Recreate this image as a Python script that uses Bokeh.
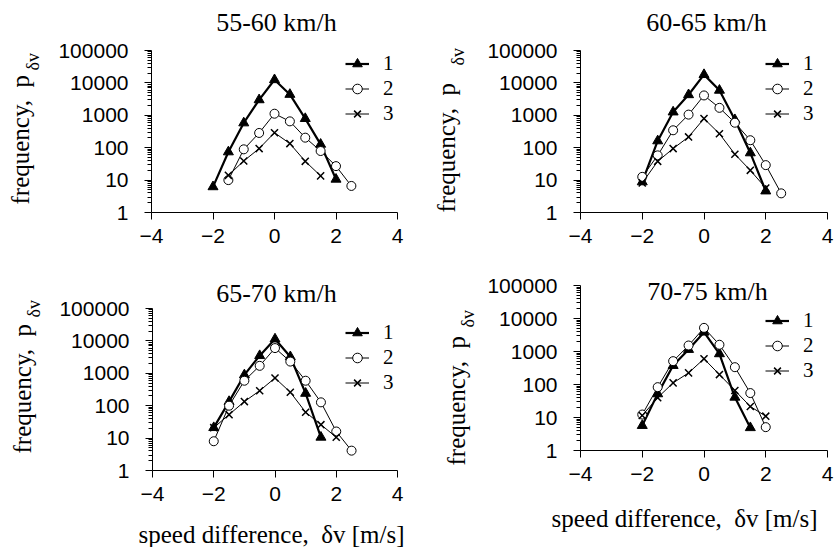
import math
from bokeh.plotting import figure
from bokeh.layouts import column, row
from bokeh.models import (FixedTicker, PrintfTickFormatter, Label, Legend,
                          LegendItem, Range1d)
from bokeh.embed import file_html
from bokeh.resources import INLINE

# ---------------- data ----------------
titles = ["55-60 km/h", "60-65 km/h", "65-70 km/h", "70-75 km/h"]
series_names = ["1", "2", "3"]

# panel 1: 55-60 km/h
p1_s1_x = [-2, -1.5, -1, -0.5, 0, 0.5, 1, 1.5, 2]
p1_s1_y = [6.2, 74, 580, 3000, 12500, 4400, 790, 127, 10.6]
p1_s2_x = [-1.5, -1, -0.5, 0, 0.5, 1, 1.5, 2, 2.5]
p1_s2_y = [10, 89, 285, 1120, 650, 204, 79, 27, 6.6]
p1_s3_x = [-1.5, -1, -0.5, 0, 0.5, 1, 1.5]
p1_s3_y = [14, 39, 94, 290, 134, 38, 13.5]

# panel 2: 60-65 km/h
p2_s1_x = [-2, -1.5, -1, -0.5, 0, 0.5, 1, 1.5, 2]
p2_s1_y = [8.8, 162, 1260, 4300, 18000, 5900, 730, 69, 4.6]
p2_s2_x = [-2, -1.5, -1, -0.5, 0, 0.5, 1, 1.5, 2, 2.5]
p2_s2_y = [12.6, 58, 345, 1050, 4100, 1700, 590, 170, 29, 3.9]
p2_s3_x = [-2, -1.5, -1, -0.5, 0, 0.5, 1, 1.5, 2]
p2_s3_y = [8.2, 38, 94, 215, 790, 270, 63, 20, 5.7]

# panel 3: 65-70 km/h
p3_s1_x = [-2, -1.5, -1, -0.5, 0, 0.5, 1, 1.5]
p3_s1_y = [21, 134, 890, 3500, 11400, 3240, 240, 10.6]
p3_s2_x = [-2, -1.5, -1, -0.5, 0, 0.5, 1, 1.5, 2, 2.5]
p3_s2_y = [8, 100, 590, 1700, 6000, 2300, 590, 127, 16, 4.1]
p3_s3_x = [-2, -1.5, -1, -0.5, 0, 0.5, 1, 1.5, 2]
p3_s3_y = [21, 53, 134, 290, 715, 260, 63, 26, 10.6]

# panel 4: 70-75 km/h
p4_s1_x = [-2, -1.5, -1, -0.5, 0, 0.5, 1, 1.5]
p4_s1_y = [5.7, 52, 375, 1150, 3850, 850, 41, 4.9]
p4_s2_x = [-2, -1.5, -1, -0.5, 0, 0.5, 1, 1.5, 2]
p4_s2_y = [12.3, 83, 510, 1520, 5200, 1600, 335, 55, 5.1]
p4_s3_x = [-2, -1.5, -1, -0.5, 0, 0.5, 1, 1.5, 2]
p4_s3_y = [11.5, 40, 112, 225, 600, 200, 66, 21.5, 11]

x_ticks = [-4, -2, 0, 2, 4]
y_ticks = [1, 10, 100, 1000, 10000, 100000]
x_min, x_max = -4, 4
y_min, y_max = 1, 100000
y_label_main = "frequency,\u00a0\u00a0p"
y_label_sub = "δv"
x_label = "speed difference,\u00a0\u00a0δv [m/s]"

panels_data = [
    [(p1_s1_x, p1_s1_y), (p1_s2_x, p1_s2_y), (p1_s3_x, p1_s3_y)],
    [(p2_s1_x, p2_s1_y), (p2_s2_x, p2_s2_y), (p2_s3_x, p2_s3_y)],
    [(p3_s1_x, p3_s1_y), (p3_s2_x, p3_s2_y), (p3_s3_x, p3_s3_y)],
    [(p4_s1_x, p4_s1_y), (p4_s2_x, p4_s2_y), (p4_s3_x, p4_s3_y)],
]

# ---------------- layout / style (pixels, top-down inside each figure) ----------------
SERIF = "Liberation Serif"
SANS = "Liberation Sans"

# ylab = (main x, main bottom, sub x, sub bottom)
geoms = [
    dict(W=420, H=270, ax=(151, 397, 50, 212), title=(276, 21.5),
         ylab=(20, 204, 32, 70), leg=(345, 63), xlab=None),
    dict(W=414, H=270, ax=(160, 407, 50, 212), title=(286, 22),
         ylab=(26, 212, 37, 65), leg=(345, 63), xlab=None),
    dict(W=420, H=277, ax=(152, 397, 38, 200), title=(276, 22.5),
         ylab=(22, 183, 33, 47), leg=(345, 62), xlab=(271, 264)),
    dict(W=414, H=277, ax=(160, 407, 15, 180), title=(287, 21),
         ylab=(36, 195, 47, 57), leg=(345, 50), xlab=(264, 248)),
]

minor = []
for d in range(5):
    for k in range(2, 10):
        minor.append(k * 10 ** d)


def make_ranges(W, H, ax):
    al, ar, at, ab = ax
    ux = (ar - al) / (x_max - x_min)
    x0 = x_min - al / ux
    x1 = x_max + (W - ar) / ux
    dec = math.log10(y_max) - math.log10(y_min)
    uy = (ab - at) / dec
    ly0 = math.log10(y_min) - (H - ab) / uy
    ly1 = math.log10(y_max) + at / uy
    return Range1d(x0, x1), Range1d(10 ** ly0, 10 ** ly1)


def make_panel(title, data, g):
    W, H = g["W"], g["H"]
    xr, yr = make_ranges(W, H, g["ax"])
    p = figure(width=W, height=H, x_range=xr, y_range=yr, y_axis_type="log",
               output_backend="svg", toolbar_location=None, title=None,
               min_border=0)
    p.xgrid.visible = False
    p.ygrid.visible = False
    p.outline_line_color = None
    p.background_fill_color = "white"
    p.border_fill_color = "white"

    xa = p.xaxis[0]
    xa.fixed_location = y_min
    xa.bounds = (x_min, x_max)
    xa.ticker = FixedTicker(ticks=x_ticks, minor_ticks=[])
    xa.major_tick_out = 7
    xa.major_tick_in = 0
    xa.minor_tick_out = 0
    xa.major_label_standoff = 9
    xa.major_label_text_font = SANS
    xa.major_label_text_font_size = "21px"
    xa.major_label_text_color = "black"
    xa.axis_line_color = "black"
    xa.major_tick_line_color = "black"

    ya = p.yaxis[0]
    ya.fixed_location = x_min
    ya.bounds = (y_min, y_max)
    ya.ticker = FixedTicker(ticks=y_ticks, minor_ticks=minor)
    ya.formatter = PrintfTickFormatter(format="%d")
    ya.major_tick_out = 7
    ya.major_tick_in = 0
    ya.minor_tick_out = 4
    ya.minor_tick_in = 0
    ya.major_label_standoff = 16
    ya.major_label_text_font = SANS
    ya.major_label_text_font_size = "21px"
    ya.major_label_text_color = "black"
    ya.axis_line_color = "black"
    ya.major_tick_line_color = "black"
    ya.minor_tick_line_color = "black"

    (x1, y1), (x2, y2), (x3, y3) = data
    l1 = p.line(x1, y1, line_color="black", line_width=2.2)
    m1 = p.scatter(x1, y1, marker="triangle", size=10, fill_color="black", line_color="black")
    l2 = p.line(x2, y2, line_color="black", line_width=1)
    m2 = p.scatter(x2, y2, marker="circle", size=9, fill_color="white", line_color="black", line_width=1)
    l3 = p.line(x3, y3, line_color="black", line_width=1)
    m3 = p.scatter(x3, y3, marker="x", size=10, line_color="black", line_width=1.5)

    lx, lc1 = g["leg"]
    row_h = 25
    ltop = lc1 - row_h / 2
    legend = Legend(items=[LegendItem(label=series_names[0], renderers=[l1, m1]),
                           LegendItem(label=series_names[1], renderers=[l2, m2]),
                           LegendItem(label=series_names[2], renderers=[l3, m3])],
                    location=(lx, H - (ltop + 3 * row_h)), orientation="vertical",
                    border_line_color=None, background_fill_alpha=0,
                    padding=0, margin=0, spacing=0,
                    glyph_width=24, glyph_height=row_h, label_height=row_h,
                    label_standoff=14, label_text_font=SERIF,
                    label_text_font_size="21px", label_text_color="black")
    p.add_layout(legend, "center")

    tx, ty = g["title"]
    p.add_layout(Label(x=tx, y=H - ty, x_units="screen", y_units="screen", text=title,
                       text_align="center", text_baseline="middle",
                       text_font=SERIF, text_font_size="26px", text_color="black"))

    mx, mbot, sx, sbot = g["ylab"]
    p.add_layout(Label(x=mx, y=H - mbot, x_units="screen", y_units="screen", text=y_label_main,
                       angle=math.pi / 2, text_align="left", text_baseline="middle",
                       text_font=SERIF, text_font_size="25px", text_color="black"))
    p.add_layout(Label(x=sx, y=H - sbot, x_units="screen", y_units="screen", text=y_label_sub,
                       angle=math.pi / 2, text_align="left", text_baseline="middle",
                       text_font=SERIF, text_font_size="18px", text_color="black"))
    if g["xlab"] is not None:
        xlx, xly = g["xlab"]
        p.add_layout(Label(x=xlx, y=H - xly, x_units="screen", y_units="screen", text=x_label,
                           text_align="center", text_baseline="middle",
                           text_font=SERIF, text_font_size="25px", text_color="black"))
    return p


figs = [make_panel(titles[i], panels_data[i], geoms[i]) for i in range(4)]
layout = column(row(figs[0], figs[1]), row(figs[2], figs[3]))

open("out.html", "w").write(file_html(layout, INLINE))
